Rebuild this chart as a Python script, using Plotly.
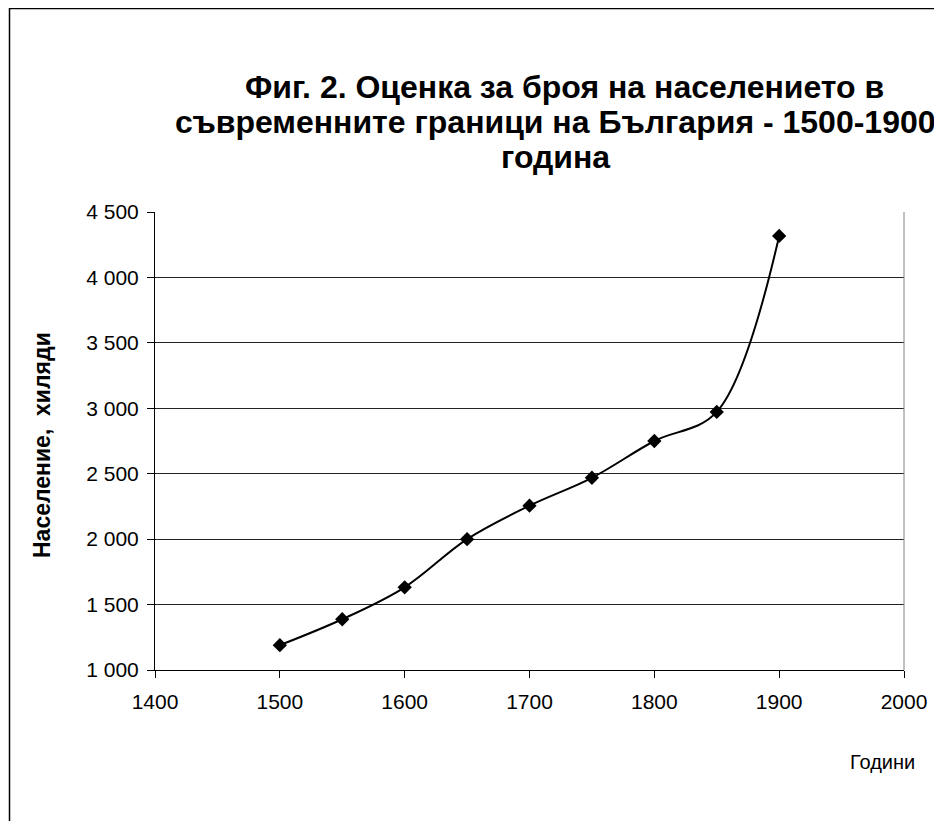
import plotly.graph_objects as go

years = [1500, 1550, 1600, 1650, 1700, 1750, 1800, 1850, 1900]
population = [1190, 1388, 1632, 2000, 2256, 2469, 2750, 2972, 4317]

title_lines = ["Фиг. 2. Оценка за броя на населението в",
               "съвременните граници на България - 1500-1900",
               "година"]
y_title = "Население,  хиляди"
x_title = "Години"

W, H = 942, 821
OFF = 8  # page body margin offset
# plot area in page pixels: x 155..904, y 212..670
L, T = 155 - OFF, 212 - OFF
R, B = W - (904 - OFF), H - (670 - OFF)
pw, ph = W - L - R, H - T - B

def px_x(p):
    return (p - OFF - L) / pw

def px_y(p):
    return (H - B - (p - OFF)) / ph

font = "Liberation Sans, Arial, sans-serif"

fig = go.Figure()
fig.add_trace(go.Scatter(
    x=years, y=population, mode="lines+markers",
    line=dict(color="black", width=2, shape="spline", smoothing=1.0),
    marker=dict(symbol="diamond", size=11, color="black"),
    showlegend=False, hoverinfo="x+y", cliponaxis=False))

fig.update_layout(
    width=W, height=H,
    margin=dict(l=L, r=R, t=T, b=B),
    paper_bgcolor="white", plot_bgcolor="white",
    separators=". ",
    font=dict(family=font, size=20, color="black"),
    xaxis=dict(range=[1400, 2000], dtick=100, tick0=1400,
               showgrid=False, zeroline=False,
               showline=True, linecolor="black", linewidth=1,
               ticks="outside", ticklen=7, tickcolor="black",
               tickfont=dict(size=21), ticklabelstandoff=6),
    yaxis=dict(range=[1000, 4500], dtick=500, tick0=1000,
               tickformat=",d",
               showgrid=True, gridcolor="#222222", gridwidth=1,
               zeroline=False,
               showline=True, linecolor="black", linewidth=1,
               ticks="outside", ticklen=7, tickcolor="black",
               tickfont=dict(size=21), ticklabelstandoff=4),
)

shapes = [
    dict(type="line", xref="paper", yref="paper", x0=1, x1=1, y0=0, y1=1,
         line=dict(color="#808080", width=1)),
    dict(type="rect", xref="paper", yref="paper",
         x0=px_x(9.5), x1=px_x(990), y0=px_y(880), y1=px_y(8.5),
         line=dict(color="black", width=1.5)),
]
fig.update_layout(shapes=shapes)

title_y = [87, 122, 157]
title_x = [564, 555, 555]
annotations = []
for line, yy, xx in zip(title_lines, title_y, title_x):
    annotations.append(dict(
        text="<b>%s</b>" % line, xref="paper", yref="paper",
        x=px_x(xx), y=px_y(yy), xanchor="center", yanchor="middle",
        showarrow=False, font=dict(size=32, family=font, color="black")))
annotations += [
    dict(text="<b>%s</b>" % y_title, xref="paper", yref="paper",
         x=px_x(42), y=px_y(445), xanchor="center", yanchor="middle",
         textangle=-90, showarrow=False,
         font=dict(size=23, family=font)),
    dict(text=x_title, xref="paper", yref="paper",
         x=px_x(882), y=px_y(762), xanchor="center", yanchor="middle",
         showarrow=False, font=dict(size=20, family=font)),
]
fig.update_layout(annotations=annotations)

fig.write_html("out.html")
